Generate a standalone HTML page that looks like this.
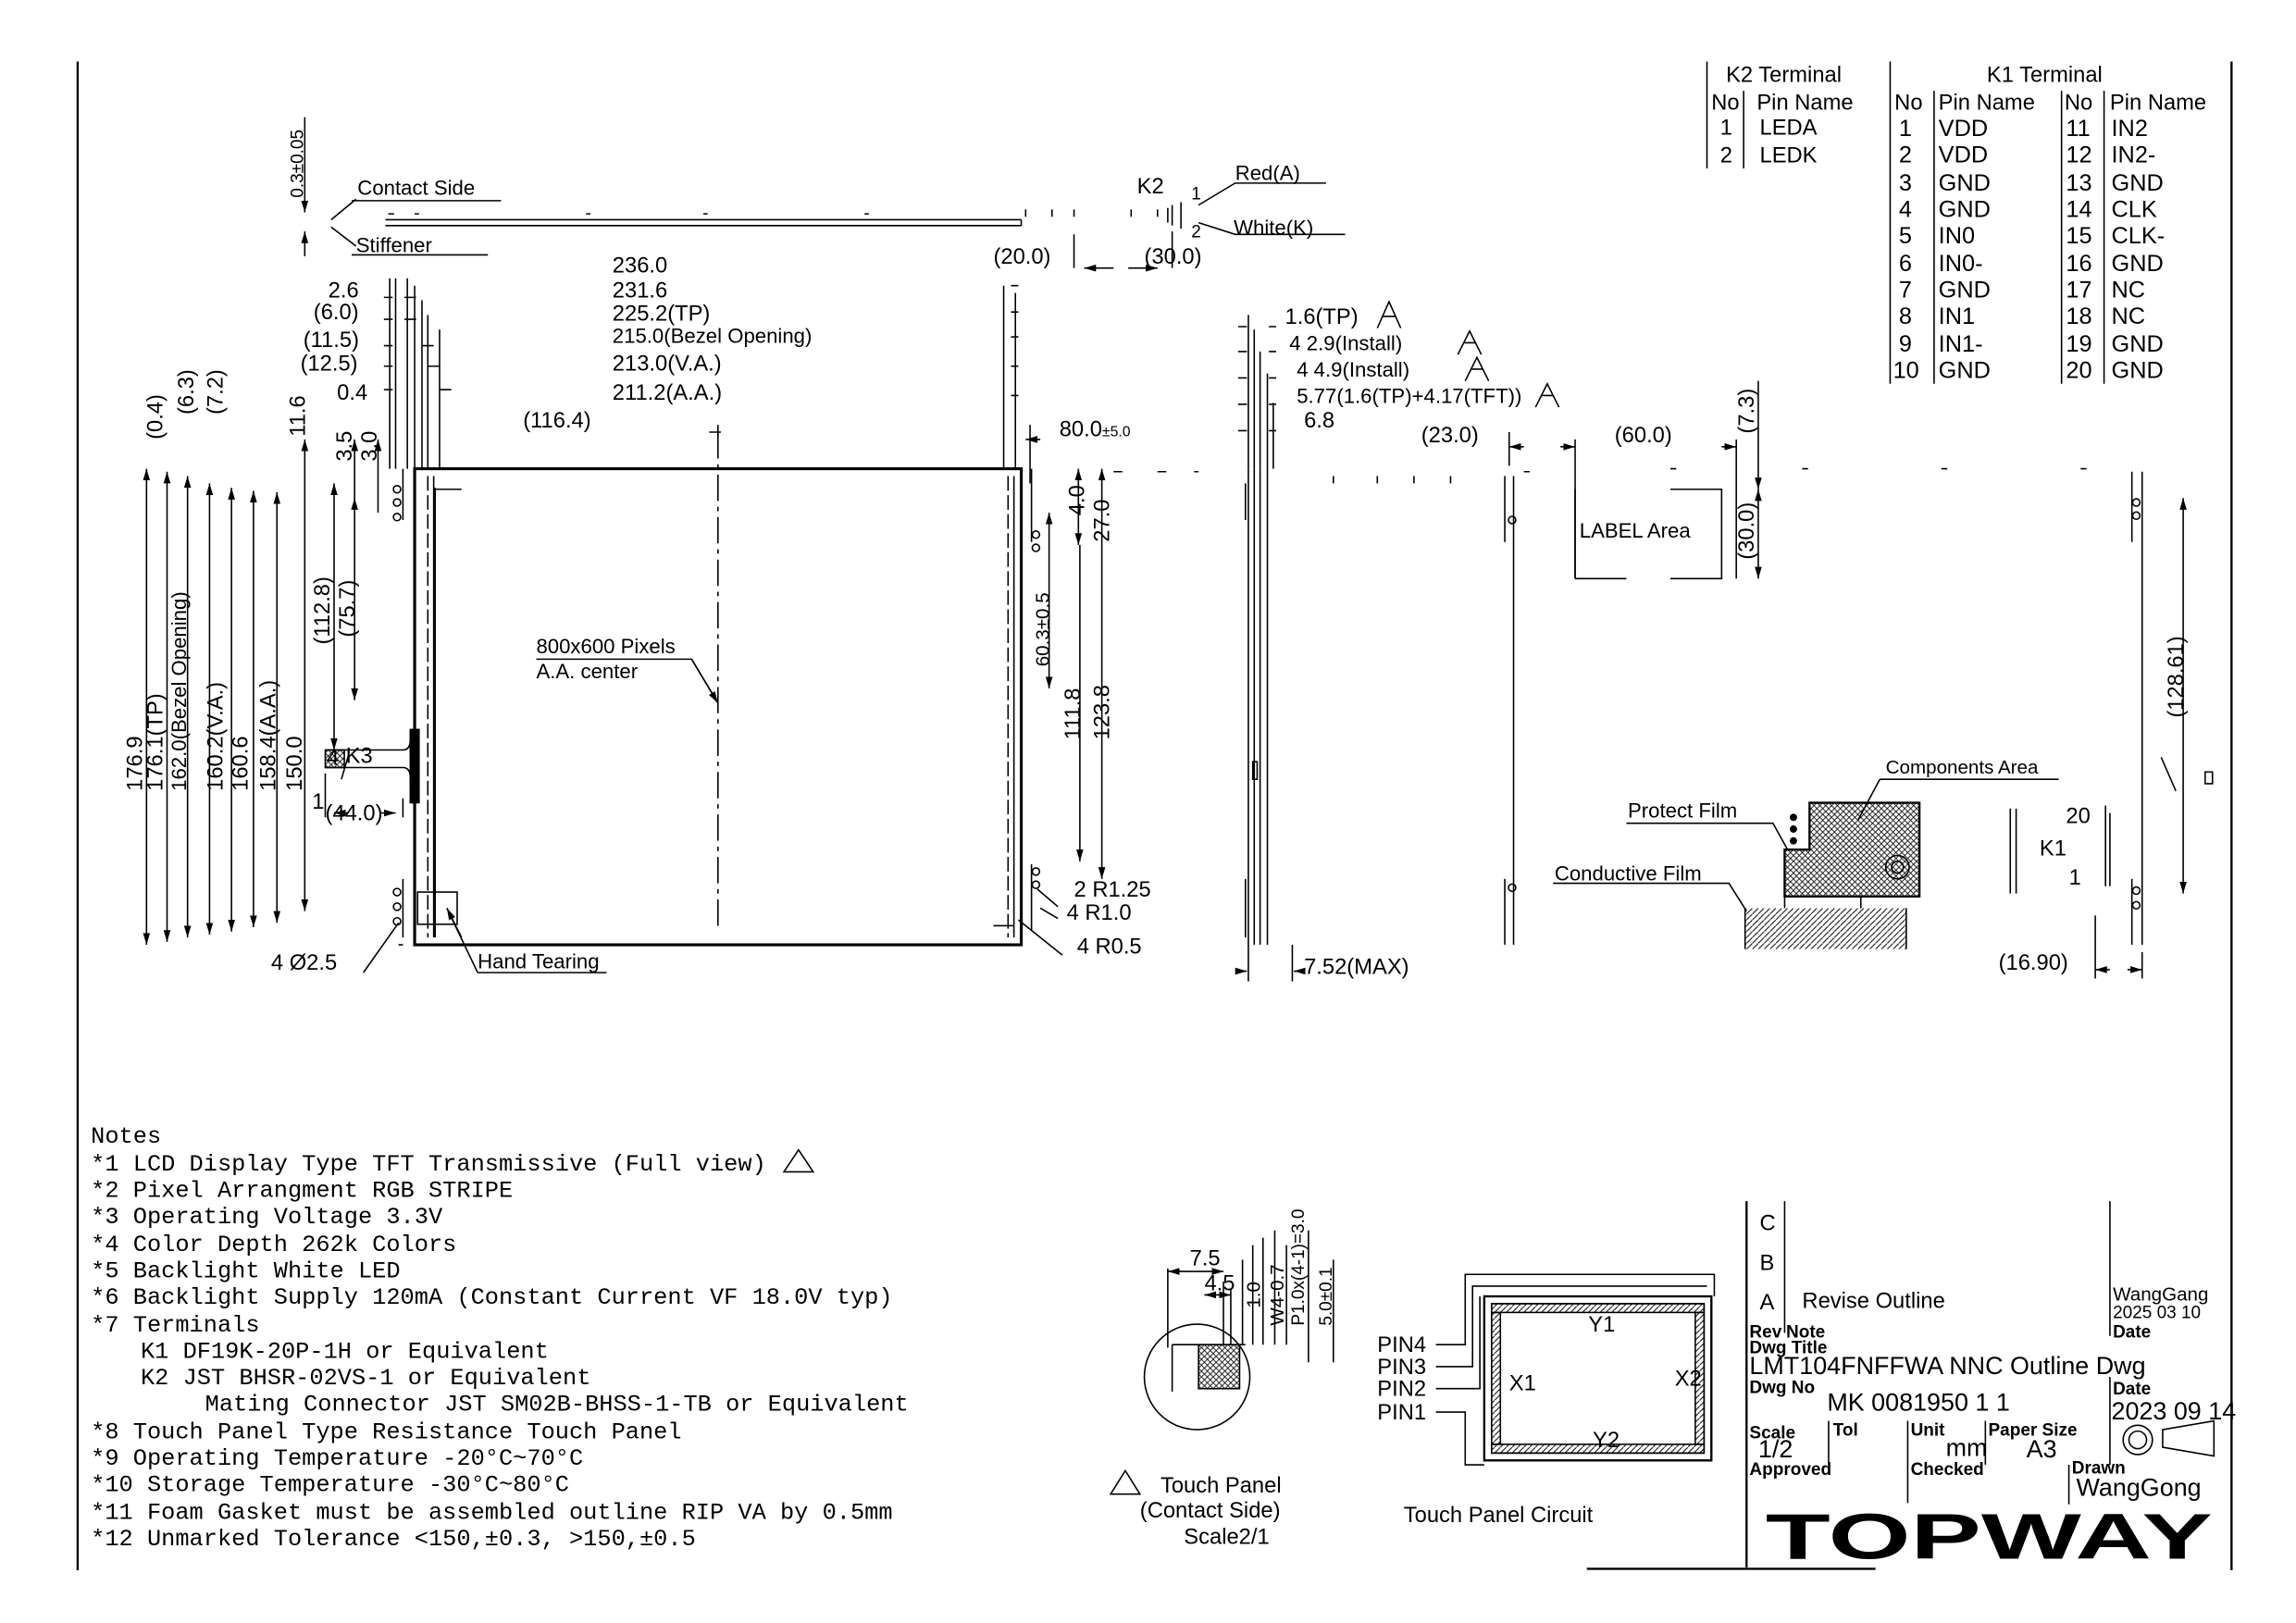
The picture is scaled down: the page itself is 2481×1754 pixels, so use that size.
<!DOCTYPE html>
<html><head><meta charset="utf-8"><style>
html,body{margin:0;padding:0;background:#fff}
svg{display:block}
text{font-family:"Liberation Sans Narrow","Liberation Sans",sans-serif;fill:#000}
</style></head><body>
<svg width="2481" height="1754" viewBox="0 0 1567 1108" preserveAspectRatio="none" xmlns="http://www.w3.org/2000/svg">
<defs>
<marker id="a" viewBox="0 0 10 6" refX="10" refY="3" markerWidth="8" markerHeight="5" orient="auto-start-reverse" markerUnits="userSpaceOnUse"><path d="M0,0L10,3L0,6z"/></marker>
<pattern id="h1" width="4" height="4" patternUnits="userSpaceOnUse"><path d="M0,4L4,0M0,0L4,4" stroke="#000" stroke-width="0.5"/></pattern>
<pattern id="h2" width="4" height="4" patternUnits="userSpaceOnUse"><path d="M0,4L4,0" stroke="#000" stroke-width="0.6"/></pattern>
</defs>
<g stroke="#000" fill="none" stroke-width="1">
<line x1="53" y1="42" x2="53" y2="1072" stroke-width="1.5"/>
<line x1="1523" y1="42" x2="1523" y2="1072" stroke-width="1.5"/>
<line x1="1083" y1="1071" x2="1280" y2="1071" stroke-width="1.5"/>
<line x1="1165" y1="42" x2="1165" y2="115"/><line x1="1190" y1="62" x2="1190" y2="115"/>
<line x1="1290" y1="42" x2="1290" y2="262"/><line x1="1320" y1="62" x2="1320" y2="262"/>
<line x1="1407" y1="62" x2="1407" y2="262"/><line x1="1436" y1="62" x2="1436" y2="262"/>
<line x1="1192" y1="820" x2="1192" y2="1070" stroke-width="1.5"/>
<line x1="1218" y1="820" x2="1218" y2="910"/>
<line x1="1440" y1="820" x2="1440" y2="912"/>
<line x1="1440" y1="940" x2="1440" y2="1000"/>
<line x1="1248" y1="970" x2="1248" y2="1000"/>
<line x1="1302" y1="970" x2="1302" y2="1026"/>
<line x1="1355" y1="970" x2="1355" y2="1000"/>
<line x1="1412" y1="1000" x2="1412" y2="1027"/>
<circle cx="1459" cy="983" r="10"/><circle cx="1459" cy="983" r="6"/>
<path d="M1476,976L1511,970L1511,994L1476,988z"/>

<line x1="263" y1="150" x2="697" y2="150"/><line x1="263" y1="154" x2="697" y2="154"/>
<line x1="697" y1="150" x2="697" y2="154"/>
<path d="M265,146h4M283,146h3M400,146h3M480,146h3M590,146h3M700,143v5M718,143v5M733,143v5M772,143v5M790,143v5"/>
<line x1="208" y1="80" x2="208" y2="145" marker-end="url(#a)"/>
<line x1="208" y1="175" x2="208" y2="158" marker-end="url(#a)"/>
<path d="M243,136L226,150M243,168L226,155M240,137H342M240,174H333"/>
<path d="M797,142v10M800,140v14M806,138v18M818,140L843,125H905M818,152L843,160H918"/>
<line x1="733" y1="183" x2="733" y2="160"/><line x1="800" y1="183" x2="800" y2="158"/>
<line x1="740" y1="183" x2="760" y2="183" marker-start="url(#a)"/>
<line x1="790" y1="183" x2="770" y2="183" marker-start="url(#a)"/>

<rect x="283" y="320" width="414" height="325" stroke-width="2"/>
<line x1="292" y1="325" x2="292" y2="640" stroke-dasharray="10,3"/>
<line x1="296" y1="325" x2="296" y2="640"/>
<line x1="688" y1="325" x2="688" y2="640" stroke-dasharray="10,3"/>
<line x1="692" y1="325" x2="692" y2="640"/>
<path d="M297,334H315M297,333V640M678,632H692"/>
<line x1="490" y1="295" x2="490" y2="632" stroke-dasharray="18,4,3,4"/>
<path d="M366,450H472L490,480"/>
<line x1="472" y1="450" x2="490" y2="480" marker-end="url(#a)"/>
<path d="M275,320v35M275,600v40M272,645h3"/>
<circle cx="271" cy="334" r="2.5"/><circle cx="271" cy="343" r="2.5"/><circle cx="271" cy="353" r="2.5"/>
<circle cx="271" cy="609" r="2.5"/><circle cx="271" cy="619" r="2.5"/><circle cx="271" cy="629" r="2.5"/>
<path d="M704,320v50M704,590v45"/>
<circle cx="707" cy="365" r="2.5"/><circle cx="707" cy="374" r="2.5"/>
<circle cx="707" cy="595" r="2.5"/><circle cx="707" cy="604" r="2.5"/>
<rect x="222" y="512" width="13" height="12" fill="url(#h1)"/>
<path d="M222,512H275Q280,512 280,505V500M222,524H275Q280,524 280,531V536"/>
<rect x="280" y="498" width="6" height="50" fill="#000"/>
<line x1="233" y1="532" x2="238" y2="515"/>
<rect x="285" y="609" width="27" height="22"/>
<path d="M326,664H414M326,664L305,620"/>
<line x1="315" y1="640" x2="305" y2="620" marker-end="url(#a)"/>
<path d="M248,664L272,630"/>
<path d="M708,607L722,619M710,620L722,627M695,628L725,652"/>
<g>
<line x1="100" y1="320" x2="100" y2="645" marker-start="url(#a)" marker-end="url(#a)"/>
<line x1="114" y1="322" x2="114" y2="643" marker-start="url(#a)" marker-end="url(#a)"/>
<line x1="128" y1="325" x2="128" y2="640" marker-start="url(#a)" marker-end="url(#a)"/>
<line x1="143" y1="330" x2="143" y2="638" marker-start="url(#a)" marker-end="url(#a)"/>
<line x1="158" y1="333" x2="158" y2="636" marker-start="url(#a)" marker-end="url(#a)"/>
<line x1="173" y1="335" x2="173" y2="633" marker-start="url(#a)" marker-end="url(#a)"/>
<line x1="189" y1="336" x2="189" y2="630" marker-start="url(#a)" marker-end="url(#a)"/>
<line x1="208" y1="300" x2="208" y2="622" marker-start="url(#a)" marker-end="url(#a)"/>
<line x1="228" y1="330" x2="228" y2="512" marker-start="url(#a)" marker-end="url(#a)"/>
<line x1="242" y1="340" x2="242" y2="478" marker-start="url(#a)" marker-end="url(#a)"/>
<line x1="242" y1="300" x2="242" y2="345" marker-start="url(#a)"/>
<line x1="258" y1="300" x2="258" y2="350" marker-start="url(#a)"/>
</g>
<path d="M266,190V320M270,190V320M278,190V320M283,195V320M288,205V320M292,215V320M300,225V320"/>
<path d="M262,203h6M276,203h8M262,218h6M276,218h8M262,236h6M288,236h8M262,250h6M292,250h8M262,266h6M300,266h8"/>
<line x1="222" y1="558" x2="222" y2="528"/><line x1="275" y1="558" x2="275" y2="545"/>
<line x1="228" y1="555" x2="238" y2="555" marker-start="url(#a)"/>
<line x1="270" y1="555" x2="260" y2="555" marker-start="url(#a)"/>
<path d="M484,295h8M490,290v8M690,195h5M690,213h5M690,230h5M690,250h5M690,270h5M685,195V320M693,200V320"/>
<line x1="700" y1="300" x2="710" y2="300" marker-start="url(#a)"/>
<path d="M703,290V330M760,322h6M790,322h6M815,322h3"/>
<line x1="736" y1="320" x2="736" y2="372" marker-start="url(#a)" marker-end="url(#a)"/>
<line x1="752" y1="320" x2="752" y2="600" marker-start="url(#a)" marker-end="url(#a)"/>
<line x1="737" y1="372" x2="737" y2="588" marker-end="url(#a)"/>
<line x1="716" y1="350" x2="716" y2="470" marker-start="url(#a)" marker-end="url(#a)"/>

<path d="M852,320V645M856,320V645M860,320V645M865,320V645M850,330v25M850,600v40"/>
<rect x="855" y="520" width="3" height="12"/>
<path d="M852,215V320M856,225V320M860,240V320M865,255V320M869,275V320"/>
<path d="M845,223h6M845,240h6M845,258h6M845,276h6M845,294h6M866,223h5M866,240h5M866,258h5M866,276h5M866,294h5"/>
<path d="M852,645V670M882,645V670"/>
<line x1="845" y1="663" x2="851" y2="663" marker-end="url(#a)"/>
<line x1="889" y1="663" x2="883" y2="663" marker-end="url(#a)"/>
<path d="M940,224L948,206L956,224M944,216h8M995,242L1003,226L1011,242M999,234h8M1000,260L1008,244L1016,260M1004,252h8M1048,278L1056,262L1064,278M1052,270h8"/>
<path d="M1033,325V645M1027,325V370M1027,600V645"/>
<circle cx="1032" cy="355" r="2.5"/><circle cx="1032" cy="606" r="2.5"/>
<path d="M910,325v5M940,325v5M965,325v5M990,325v5M1040,322h4M1140,320h4M1230,320h4M1325,320h4M1420,320h4"/>
<path d="M1030,295V318M1075,300V395M1185,300V395"/>
<line x1="1040" y1="305" x2="1030" y2="305" marker-end="url(#a)"/>
<line x1="1065" y1="305" x2="1075" y2="305" marker-end="url(#a)"/>
<line x1="1175" y1="305" x2="1185" y2="305" marker-end="url(#a)"/>
<path d="M1075,395H1110M1140,395H1175V334H1140M1075,334V395"/>
<line x1="1200" y1="260" x2="1200" y2="334" marker-end="url(#a)"/>
<line x1="1200" y1="334" x2="1200" y2="395" marker-start="url(#a)" marker-end="url(#a)"/>
<path d="M1462,322V645M1455,322V370M1455,600V645"/>
<circle cx="1458" cy="343" r="2.5"/><circle cx="1458" cy="352" r="2.5"/>
<circle cx="1458" cy="608" r="2.5"/><circle cx="1458" cy="618" r="2.5"/>
<line x1="1490" y1="340" x2="1490" y2="610" marker-start="url(#a)" marker-end="url(#a)"/>
<path d="M1475,517L1485,540M1505,527h5v8h-5z"/>
<path d="M1430,625V668M1462,650V668"/>
<line x1="1440" y1="662" x2="1430" y2="662" marker-end="url(#a)"/>
<line x1="1452" y1="662" x2="1462" y2="662" marker-end="url(#a)"/>
<path d="M1372,552V610M1376,552V610M1437,550v55M1440,555v50"/>
<path d="M1235,548H1310V612H1218V580H1235z" fill="url(#h1)" stroke-width="1.5"/>
<circle cx="1295" cy="592" r="8"/><circle cx="1295" cy="592" r="4"/>
<circle cx="1224" cy="558" r="2" fill="#000"/><circle cx="1224" cy="566" r="2" fill="#000"/><circle cx="1224" cy="574" r="2" fill="#000"/>
<rect x="1191" y="620" width="110" height="28" fill="url(#h2)" stroke="none"/>
<path d="M1191,620V648M1301,620V648M1218,612V620M1270,612V620"/>
<path d="M1283,532H1405M1283,532L1268,560M1110,562H1210L1220,580M1060,603H1180L1192,622"/>

<circle cx="817" cy="940" r="36"/>
<rect x="818" y="918" width="28" height="30" fill="url(#h1)"/>
<path d="M800,918H850M800,918V950M797,866V920M835,875V918M840,880V918M848,860V918M855,850V918M862,845V918M870,840V918M878,850V918M893,840V930M910,860V930"/>
<line x1="797" y1="868" x2="835" y2="868" marker-start="url(#a)" marker-end="url(#a)"/>
<line x1="822" y1="884" x2="840" y2="884" marker-start="url(#a)" marker-end="url(#a)"/>
<path d="M758,1020L768,1004L778,1020z"/>
<rect x="1013" y="885" width="155" height="112" stroke-width="1.5"/>
<rect x="1018" y="890" width="145" height="102"/>
<rect x="1018" y="890" width="145" height="6" fill="url(#h2)"/>
<rect x="1018" y="986" width="145" height="6" fill="url(#h2)"/>
<rect x="1018" y="896" width="6" height="90" fill="url(#h2)"/>
<rect x="1157" y="896" width="6" height="90" fill="url(#h2)"/>
<path d="M980,918H1000V870H1170V885M980,933H1005V878H1165M980,948H1010V885M980,964H1000V1000H1013"/>
</g>

<g font-size="15">
<text x="1178" y="56">K2 Terminal</text><text x="1356" y="56">K1 Terminal</text>
<text x="1168" y="75">No</text><text x="1199" y="75">Pin Name</text>
<text x="1293" y="75">No</text><text x="1323" y="75">Pin Name</text>
<text x="1409" y="75">No</text><text x="1440" y="75">Pin Name</text>
<text x="1174" y="92">1</text><text x="1201" y="92">LEDA</text>
<text x="1174" y="111">2</text><text x="1201" y="111">LEDK</text>
<g font-size="16">
<text x="1296" y="93">1</text><text x="1323" y="93">VDD</text><text x="1410" y="93">11</text><text x="1441" y="93">IN2</text>
<text x="1296" y="111">2</text><text x="1323" y="111">VDD</text><text x="1410" y="111">12</text><text x="1441" y="111">IN2-</text>
<text x="1296" y="130">3</text><text x="1323" y="130">GND</text><text x="1410" y="130">13</text><text x="1441" y="130">GND</text>
<text x="1296" y="148">4</text><text x="1323" y="148">GND</text><text x="1410" y="148">14</text><text x="1441" y="148">CLK</text>
<text x="1296" y="166">5</text><text x="1323" y="166">IN0</text><text x="1410" y="166">15</text><text x="1441" y="166">CLK-</text>
<text x="1296" y="185">6</text><text x="1323" y="185">IN0-</text><text x="1410" y="185">16</text><text x="1441" y="185">GND</text>
<text x="1296" y="203">7</text><text x="1323" y="203">GND</text><text x="1410" y="203">17</text><text x="1441" y="203">NC</text>
<text x="1296" y="221">8</text><text x="1323" y="221">IN1</text><text x="1410" y="221">18</text><text x="1441" y="221">NC</text>
<text x="1296" y="240">9</text><text x="1323" y="240">IN1-</text><text x="1410" y="240">19</text><text x="1441" y="240">GND</text>
<text x="1292" y="258">10</text><text x="1323" y="258">GND</text><text x="1410" y="258">20</text><text x="1441" y="258">GND</text>
</g>

<text x="244" y="133" font-size="14">Contact Side</text>
<text x="243" y="172" font-size="14">Stiffener</text>
<text transform="translate(207,135) rotate(-90)" font-size="12">0.3±0.05</text>
<text x="678" y="180">(20.0)</text>
<text x="776" y="132">K2</text>
<text x="843" y="123" font-size="14">Red(A)</text>
<text x="842" y="160" font-size="14">White(K)</text>
<text x="813" y="136" font-size="12">1</text><text x="813" y="162" font-size="12">2</text>
<text x="781" y="180">(30.0)</text>

<text x="418" y="186">236.0</text><text x="418" y="203">231.6</text>
<text x="418" y="219">225.2(TP)</text><text x="418" y="234" font-size="14">215.0(Bezel Opening)</text>
<text x="418" y="253">213.0(V.A.)</text><text x="418" y="273">211.2(A.A.)</text>
<text x="357" y="292">(116.4)</text>
<text x="224" y="203">2.6</text><text x="214" y="218">(6.0)</text><text x="207" y="237">(11.5)</text>
<text x="205" y="253">(12.5)</text><text x="230" y="273">0.4</text>
<text transform="translate(111,300) rotate(-90)">(0.4)</text>
<text transform="translate(132,283) rotate(-90)">(6.3)</text>
<text transform="translate(152,283) rotate(-90)">(7.2)</text>
<text transform="translate(208,298) rotate(-90)">11.6</text>
<text transform="translate(240,315) rotate(-90)">3.5</text>
<text transform="translate(257,315) rotate(-90)">3.0</text>
<text transform="translate(97,540) rotate(-90)">176.9</text>
<text transform="translate(111,540) rotate(-90)">176.1(TP)</text>
<text transform="translate(127,540) rotate(-90)" font-size="14">162.0(Bezel Opening)</text>
<text transform="translate(152,540) rotate(-90)">160.2(V.A.)</text>
<text transform="translate(169,540) rotate(-90)">160.6</text>
<text transform="translate(188,540) rotate(-90)">158.4(A.A.)</text>
<text transform="translate(206,540) rotate(-90)">150.0</text>
<text transform="translate(225,440) rotate(-90)">(112.8)</text>
<text transform="translate(242,435) rotate(-90)">(75.7)</text>
<text x="236" y="521">K3</text><text x="223" y="522">4</text><text x="213" y="552">1</text>
<text x="222" y="560">(44.0)</text>
<text x="366" y="446" font-size="14">800x600 Pixels</text>
<text x="366" y="463" font-size="14">A.A. center</text>
<text x="185" y="662">4  Ø2.5</text>
<text x="326" y="661" font-size="14">Hand Tearing</text>
<text x="723" y="298">80.0<tspan font-size="10">±5.0</tspan></text>
<text transform="translate(740,352) rotate(-90)">4.0</text>
<text transform="translate(757,370) rotate(-90)">27.0</text>
<text transform="translate(716,455) rotate(-90)" font-size="13">60.3±0.5</text>
<text transform="translate(737,505) rotate(-90)">111.8</text>
<text transform="translate(757,505) rotate(-90)">123.8</text>
<text x="733" y="612">2  R1.25</text><text x="728" y="628">4  R1.0</text><text x="735" y="651">4  R0.5</text>

<text x="877" y="221">1.6(TP)</text>
<text x="880" y="239" font-size="14">4  2.9(Install)</text>
<text x="885" y="257" font-size="14">4  4.9(Install)</text>
<text x="885" y="275" font-size="14">5.77(1.6(TP)+4.17(TFT))</text>
<text x="890" y="292">6.8</text>
<text x="890" y="665">7.52(MAX)</text>
<text x="970" y="302">(23.0)</text><text x="1102" y="302">(60.0)</text>
<text transform="translate(1197,296) rotate(-90)">(7.3)</text>
<text transform="translate(1197,382) rotate(-90)">(30.0)</text>
<text x="1078" y="367" font-size="14">LABEL Area</text>
<text transform="translate(1490,490) rotate(-90)">(128.61)</text>
<text x="1364" y="662">(16.90)</text>
<text x="1287" y="528" font-size="13">Components Area</text>
<text x="1111" y="558" font-size="14">Protect Film</text>
<text x="1061" y="601" font-size="14">Conductive Film</text>
<text x="1410" y="562">20</text><text x="1392" y="584">K1</text><text x="1412" y="604">1</text>

<g font-size="16" style="font-family:'Liberation Mono',monospace">
<text x="62" y="780" style="font-family:'Liberation Mono',monospace">Notes</text>
<text x="62" y="799" style="font-family:'Liberation Mono',monospace">*1 LCD Display Type TFT Transmissive (Full view)</text>
<text x="62" y="817" style="font-family:'Liberation Mono',monospace">*2 Pixel Arrangment RGB STRIPE</text>
<text x="62" y="835" style="font-family:'Liberation Mono',monospace">*3 Operating Voltage  3.3V</text>
<text x="62" y="854" style="font-family:'Liberation Mono',monospace">*4 Color Depth  262k Colors</text>
<text x="62" y="872" style="font-family:'Liberation Mono',monospace">*5 Backlight  White LED</text>
<text x="62" y="890" style="font-family:'Liberation Mono',monospace">*6 Backlight Supply  120mA (Constant Current VF 18.0V typ)</text>
<text x="62" y="909" style="font-family:'Liberation Mono',monospace">*7 Terminals</text>
<text x="96" y="927" style="font-family:'Liberation Mono',monospace">K1  DF19K-20P-1H or Equivalent</text>
<text x="96" y="945" style="font-family:'Liberation Mono',monospace">K2  JST BHSR-02VS-1 or Equivalent</text>
<text x="140" y="963" style="font-family:'Liberation Mono',monospace">Mating Connector  JST SM02B-BHSS-1-TB or Equivalent</text>
<text x="62" y="982" style="font-family:'Liberation Mono',monospace">*8 Touch Panel Type  Resistance Touch Panel</text>
<text x="62" y="1000" style="font-family:'Liberation Mono',monospace">*9 Operating Temperature   -20°C~70°C</text>
<text x="62" y="1018" style="font-family:'Liberation Mono',monospace">*10 Storage Temperature   -30°C~80°C</text>
<text x="62" y="1037" style="font-family:'Liberation Mono',monospace">*11 Foam Gasket must be assembled outline RIP VA by 0.5mm</text>
<text x="62" y="1055" style="font-family:'Liberation Mono',monospace">*12 Unmarked Tolerance   &lt;150,±0.3, &gt;150,±0.5</text>
</g>
<path d="M535,800L545,785L555,800z" fill="none" stroke="#000"/>

<text x="812" y="864">7.5</text><text x="822" y="881">4.5</text>
<text transform="translate(860,893) rotate(-90)" font-size="13">1.0</text>
<text transform="translate(876,905) rotate(-90)" font-size="13">W4-0.7</text>
<text transform="translate(890,905) rotate(-90)" font-size="12">P1.0x(4-1)=3.0</text>
<text transform="translate(909,905) rotate(-90)" font-size="12">5.0±0.1</text>
<text x="792" y="1019">Touch Panel</text>
<text x="778" y="1036">(Contact Side)</text>
<text x="808" y="1054">Scale2/1</text>
<text x="940" y="923">PIN4</text><text x="940" y="938">PIN3</text><text x="940" y="953">PIN2</text><text x="940" y="969">PIN1</text>
<text x="1084" y="909">Y1</text><text x="1030" y="949">X1</text><text x="1143" y="946">X2</text><text x="1087" y="988">Y2</text>
<text x="958" y="1039">Touch Panel Circuit</text>

<text x="1201" y="840">C</text><text x="1201" y="867">B</text><text x="1201" y="894">A</text>
<text x="1230" y="893" fill="#333">Revise Outline</text>
<text x="1442" y="888" font-size="13" fill="#333">WangGang</text>
<text x="1442" y="900" font-size="12" fill="#333">2025 03 10</text>
<g font-size="12" font-weight="bold">
<text x="1194" y="913">Rev</text><text x="1219" y="913">Note</text><text x="1442" y="913">Date</text>
<text x="1194" y="924">Dwg Title</text><text x="1194" y="951">Dwg No</text><text x="1442" y="952">Date</text>
<text x="1194" y="982">Scale</text><text x="1251" y="980">Tol</text><text x="1304" y="980">Unit</text><text x="1357" y="980">Paper Size</text>
<text x="1194" y="1007">Approved</text><text x="1304" y="1007">Checked</text><text x="1414" y="1006">Drawn</text>
</g>
<text x="1194" y="938" font-size="17">LMT104FNFFWA NNC Outline Dwg</text>
<text x="1247" y="963" font-size="17">MK 0081950 1 1</text>
<text x="1441" y="969" font-size="17">2023 09 14</text>
<text x="1200" y="995" font-size="17">1/2</text>
<text x="1328" y="994" font-size="17">mm</text><text x="1383" y="995" font-size="17">A3</text>
<text x="1417" y="1021" font-size="17">WangGong</text>
<text x="1205" y="1064" font-size="44" font-weight="bold" textLength="305" lengthAdjust="spacingAndGlyphs" style="font-family:'Liberation Sans',sans-serif">TOPWAY</text>
</g>
</svg>
</body></html>
